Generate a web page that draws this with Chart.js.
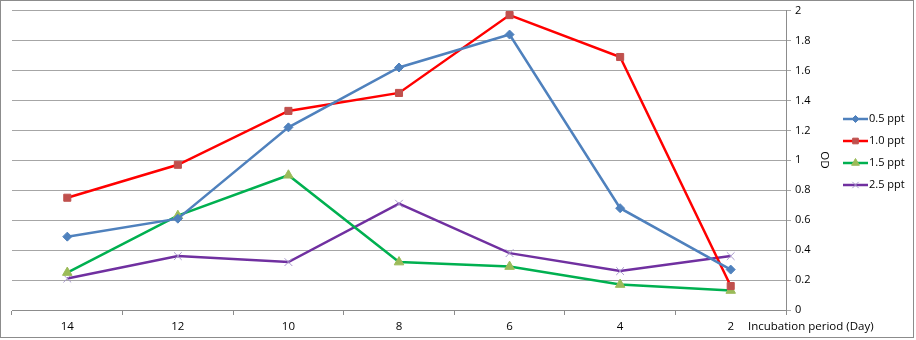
<!DOCTYPE html>
<html>
<head>
<meta charset="utf-8">
<script src="https://cdn.jsdelivr.net/npm/chart.js@4/dist/chart.umd.min.js"></script>
<style>
  html, body { margin: 0; padding: 0; background: #fff; }
  #wrap { width: 916px; height: 340px; position: relative; }
</style>
</head>
<body>
<div id="wrap"><canvas id="odChart" width="916" height="340"></canvas></div>
<script>
// Incubation days (axis runs from 14 down to 2)
const days = ['14', '12', '10', '8', '6', '4', '2'];

// OD readings per salinity
const od05 = [0.49, 0.61, 1.22, 1.62, 1.84, 0.68, 0.27];
const od10 = [0.75, 0.97, 1.33, 1.45, 1.97, 1.69, 0.16];
const od15 = [0.25, 0.63, 0.90, 0.32, 0.29, 0.17, 0.13];
const od25 = [0.21, 0.36, 0.32, 0.71, 0.38, 0.26, 0.36];

const seriesLabels = ['0.5 ppt', '1.0 ppt', '1.5 ppt', '2.5 ppt'];
const yTicks = [0, 0.2, 0.4, 0.6, 0.8, 1, 1.2, 1.4, 1.6, 1.8, 2];

const fontFamily = '"Open Sans", "Noto Sans", sans-serif';

// Draws frame, axis titles and the legend (line + marker swatches)
const extrasPlugin = {
    id: 'extras',
    afterDraw(chart) {
        const ctx = chart.ctx;
        ctx.save();

        // outer frame
        ctx.strokeStyle = '#8c8c8c';
        ctx.lineWidth = 1;
        ctx.strokeRect(0.5, 0.5, 913, 337);

        ctx.fillStyle = '#000';
        ctx.font = '11.5px ' + fontFamily;
        ctx.textBaseline = 'middle';

        // x axis title, right of the last tick label
        ctx.textAlign = 'left';
        ctx.fillText('Incubation period (Day)', 748, 327);

        // y axis title, rotated
        ctx.save();
        ctx.translate(824, 160);
        ctx.rotate(Math.PI / 2);
        ctx.textAlign = 'center';
        ctx.fillText('OD', 0, 0);
        ctx.restore();

        // legend
        ctx.font = '11px ' + fontFamily;
        chart.data.datasets.forEach((ds, i) => {
            const y = 119 + i * 22;
            const x0 = 843, x1 = 868;
            ctx.strokeStyle = ds.borderColor;
            ctx.lineWidth = 2.5;
            ctx.beginPath();
            ctx.moveTo(x0, y);
            ctx.lineTo(x1, y);
            ctx.stroke();

            ctx.fillStyle = ds.pointBackgroundColor;
            ctx.strokeStyle = ds.pointBorderColor;
            ctx.lineWidth = ds.pointBorderWidth;
            Chart.helpers.drawPoint(ctx, {
                pointStyle: ds.pointStyle,
                radius: ds.pointRadius - 1,
                borderWidth: ds.pointBorderWidth
            }, (x0 + x1) / 2, y);

            ctx.fillStyle = '#000';
            ctx.textAlign = 'left';
            ctx.fillText(ds.label, x1 + 1, y);
        });

        ctx.restore();
    }
};

new Chart(document.getElementById('odChart'), {
    type: 'line',
    data: {
        labels: days,
        datasets: [
            {
                label: seriesLabels[0], data: od05,
                borderColor: '#4F81BD', borderWidth: 2.5,
                pointStyle: 'rectRot', pointRadius: 4.5,
                pointBackgroundColor: '#4F81BD', pointBorderColor: '#4F81BD', pointBorderWidth: 1
            },
            {
                label: seriesLabels[1], data: od10,
                borderColor: '#FF0000', borderWidth: 2.5,
                pointStyle: 'rect', pointRadius: 5,
                pointBackgroundColor: '#C0504D', pointBorderColor: '#C0504D', pointBorderWidth: 1
            },
            {
                label: seriesLabels[2], data: od15,
                borderColor: '#00B050', borderWidth: 2.5,
                pointStyle: 'triangle', pointRadius: 5.5,
                pointBackgroundColor: '#9BBB59', pointBorderColor: '#9BBB59', pointBorderWidth: 1
            },
            {
                label: seriesLabels[3], data: od25,
                borderColor: '#7030A0', borderWidth: 2.5,
                pointStyle: 'crossRot', pointRadius: 5.5,
                pointBackgroundColor: '#A898CC', pointBorderColor: '#A898CC', pointBorderWidth: 1
            }
        ]
    },
    options: {
        responsive: false,
        animation: false,
        layout: { padding: { left: 12, top: 10, right: 0, bottom: 0 } },
        plugins: {
            legend: { display: false },
            tooltip: { enabled: false }
        },
        elements: { line: { tension: 0 } },
        scales: {
            x: {
                offset: true,
                afterFit(scale) { scale.height = 30; },
                grid: {
                    offset: true,
                    drawOnChartArea: false,
                    drawTicks: true,
                    tickLength: 5,
                    color: '#8c8c8c'
                },
                border: { color: '#8c8c8c', width: 1 },
                ticks: {
                    color: '#000',
                    padding: 5,
                    font: { family: fontFamily, size: 11.5 },
                    maxRotation: 0
                }
            },
            y: {
                position: 'right',
                min: 0,
                max: 2,
                afterFit(scale) { scale.width = 130; },
                afterBuildTicks(scale) {
                    scale.ticks = yTicks.map(v => ({ value: v }));
                },
                grid: {
                    color: '#a6a6a6',
                    lineWidth: 1,
                    drawTicks: true,
                    tickLength: 5
                },
                border: { color: '#8c8c8c', width: 1 },
                ticks: {
                    color: '#000',
                    padding: 4,
                    font: { family: fontFamily, size: 11 },
                    callback: v => String(v)
                }
            }
        }
    },
    plugins: [extrasPlugin]
});
</script>
</body>
</html>
